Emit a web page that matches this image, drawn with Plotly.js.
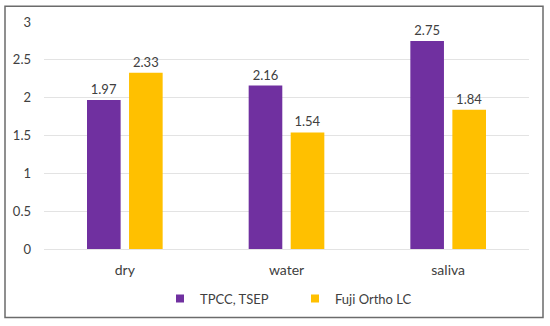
<!DOCTYPE html>
<html>
<head>
<meta charset="utf-8">
<script src="https://cdn.plot.ly/plotly-3.0.1.min.js"></script>
<style>
html,body{margin:0;padding:0;background:#fff;}
#chart{width:550px;height:326px;}
</style>
</head>
<body>
<div id="chart"></div>
<script>
const categories = ["dry", "water", "saliva"];
const seriesNames = ["TPCC, TSEP", "Fuji Ortho LC"];
const tpccValues = [1.97, 2.16, 2.75];
const fujiValues = [2.33, 1.54, 1.84];
const seriesColors = ["#7030A0", "#FFC000"];
const yTicks = [0, 0.5, 1, 1.5, 2, 2.5, 3];

const FONT = "Lato, 'Open Sans', sans-serif";
const TXT = "#404040";

function fmt(v){ return v.toFixed(2); }

const traces = [
  {
    type: "bar", x: categories, y: tpccValues, name: seriesNames[0],
    marker: {color: seriesColors[0]}, showlegend: false,
    text: tpccValues.map(fmt), textposition: "outside", cliponaxis: false,
    textfont: {family: FONT, size: 13, color: TXT}, hoverinfo: "skip"
  },
  {
    type: "bar", x: categories, y: fujiValues, name: seriesNames[1],
    marker: {color: seriesColors[1]}, showlegend: false,
    text: fujiValues.map(fmt), textposition: "outside", cliponaxis: false,
    textfont: {family: FONT, size: 13, color: TXT}, hoverinfo: "skip"
  },
  {
    type: "scatter", mode: "markers", x: [null], y: [null], name: seriesNames[0],
    marker: {symbol: "square", size: 8, color: seriesColors[0]}
  },
  {
    type: "scatter", mode: "markers", x: [null], y: [null], name: seriesNames[1],
    marker: {symbol: "square", size: 8, color: seriesColors[1]}
  }
];

const L = 44, R = 529, T = 22, B = 251, W = 550, H = 326;
const pw = R - L, ph = B - T;
function px2x(px){ return (px - L) / pw; }
function px2y(py){ return (B - py) / ph; }

const layout = {
  width: W, height: H,
  margin: {l: L, r: W - R, t: T, b: H - B},
  paper_bgcolor: "#ffffff", plot_bgcolor: "#ffffff",
  font: {family: FONT, size: 13, color: TXT},
  barmode: "group", bargap: 0.48, bargroupgap: 0.2,
  xaxis: {
    type: "category", showgrid: false, zeroline: false, showline: false,
    ticks: "", tickfont: {family: FONT, size: 14, color: TXT},
    ticklabelstandoff: 11, fixedrange: true
  },
  yaxis: {
    range: [0, 3], tickvals: yTicks, ticktext: yTicks.map(String),
    showgrid: true, gridcolor: "#e3e3e3", gridwidth: 1,
    zeroline: true, zerolinecolor: "#e3e3e3", zerolinewidth: 1,
    showline: false, ticks: "", tickfont: {family: FONT, size: 13, color: TXT},
    ticklabelstandoff: 12, fixedrange: true
  },
  legend: {
    orientation: "h", x: px2x(160), xanchor: "left", y: px2y(301), yanchor: "middle",
    font: {family: FONT, size: 13, color: TXT}, itemwidth: 30,
    entrywidth: 90, entrywidthmode: "pixels",
    bgcolor: "rgba(0,0,0,0)"
  },
  shapes: [
    {type: "rect", xref: "paper", yref: "paper",
     x0: px2x(5), x1: px2x(543), y0: px2y(320), y1: px2y(6),
     line: {color: "#6b6b6b", width: 1.5}, fillcolor: "rgba(0,0,0,0)", layer: "below"}
  ],
  showlegend: true
};

Plotly.newPlot("chart", traces, layout, {displayModeBar: false, staticPlot: true});
</script>
</body>
</html>
